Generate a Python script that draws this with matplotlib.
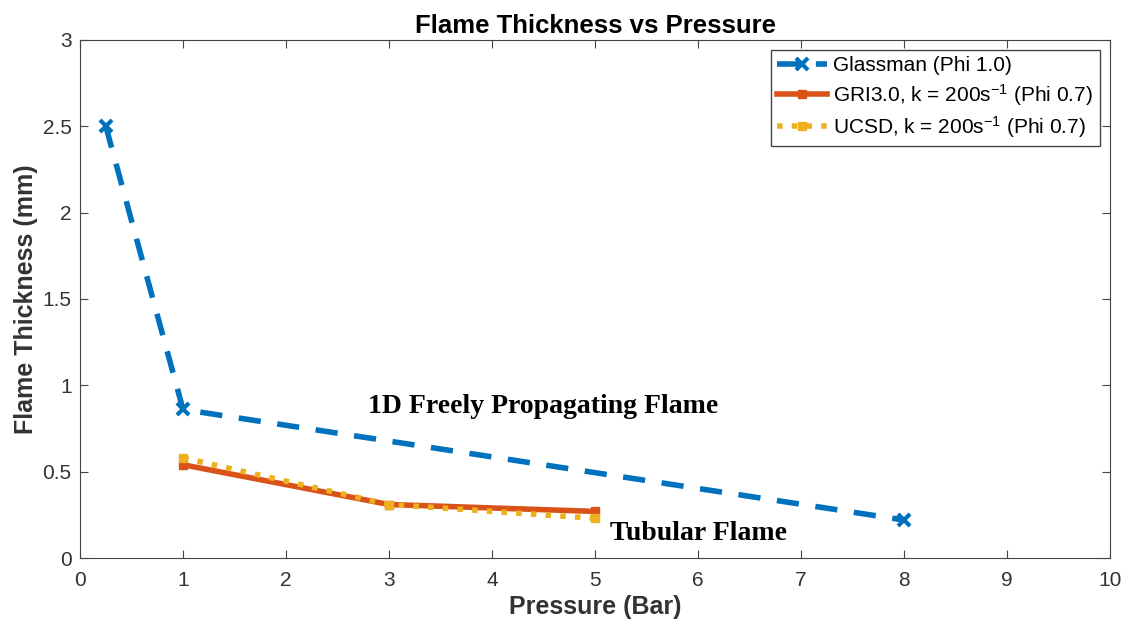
import numpy as np
import matplotlib
matplotlib.use('Agg')
import matplotlib.pyplot as plt

plt.rcParams['font.family'] = ['Liberation Sans', 'DejaVu Sans']
plt.rcParams['mathtext.fontset'] = 'custom'
plt.rcParams['mathtext.rm'] = 'Liberation Sans'
plt.rcParams['mathtext.default'] = 'regular'

# pressure (bar) and flame thickness (mm)
p_glass = [0.25, 1, 8]
d_glass = [2.5, 0.86, 0.22]
p_gri = [1, 3, 5]
d_gri = [0.54, 0.31, 0.27]
p_ucsd = [1, 3, 5]
d_ucsd = [0.58, 0.31, 0.23]

fig = plt.figure(figsize=(11.32, 6.32), dpi=100)
ax = fig.add_axes([0.0707, 0.117, 0.91, 0.82])

ax.plot(p_glass, d_glass, '--x', color='#0072BD', lw=4, ms=8, mew=3,
        dashes=(4, 3), label='Glassman (Phi 1.0)')
ax.plot(p_gri, d_gri, '-s', color='#D95319', lw=4, ms=6,
        label='GRI3.0, k = 200s$^{-1}$ (Phi 0.7)')
ax.plot(p_ucsd, d_ucsd, ':s', color='#EDB120', lw=4, ms=6,
        label='UCSD, k = 200s$^{-1}$ (Phi 0.7)')

ax.text(4.5, 0.88, '1D Freely Propagating Flame', family='Liberation Serif',
        fontweight='bold', fontsize=20, ha='center', va='center')
ax.text(6.0, 0.14, 'Tubular Flame', family='Liberation Serif',
        fontweight='bold', fontsize=20, ha='center', va='center')

ax.set_xlim(0, 10)
ax.set_ylim(0, 3)
ax.set_xticks(np.arange(0, 11, 1))
ax.set_yticks(np.arange(0, 3.01, 0.5))
ax.set_yticklabels(['0', '0.5', '1', '1.5', '2', '2.5', '3'])
ax.tick_params(direction='in', top=True, right=True, labelsize=15,
               length=6, color='#444444', labelcolor='#333333')
ax.tick_params(axis='x', pad=9)
ax.tick_params(axis='y', pad=6)
for s in ax.spines.values():
    s.set_color('#444444')

ax.set_xlabel('Pressure (Bar)', fontsize=18, fontweight='bold', color='#333333',
              labelpad=4)
ax.set_ylabel('Flame Thickness (mm)', fontsize=18, fontweight='bold', color='#333333',
              labelpad=3)
ax.set_title('Flame Thickness vs Pressure', fontsize=18.5, fontweight='bold', pad=5)

leg = ax.legend(loc='upper right', fontsize=15, fancybox=False, framealpha=1,
                edgecolor='#444444', handlelength=2.4, handletextpad=0.3,
                borderaxespad=0.5, borderpad=0.3, labelspacing=0.3)

fig.savefig('out.png', dpi=100)
